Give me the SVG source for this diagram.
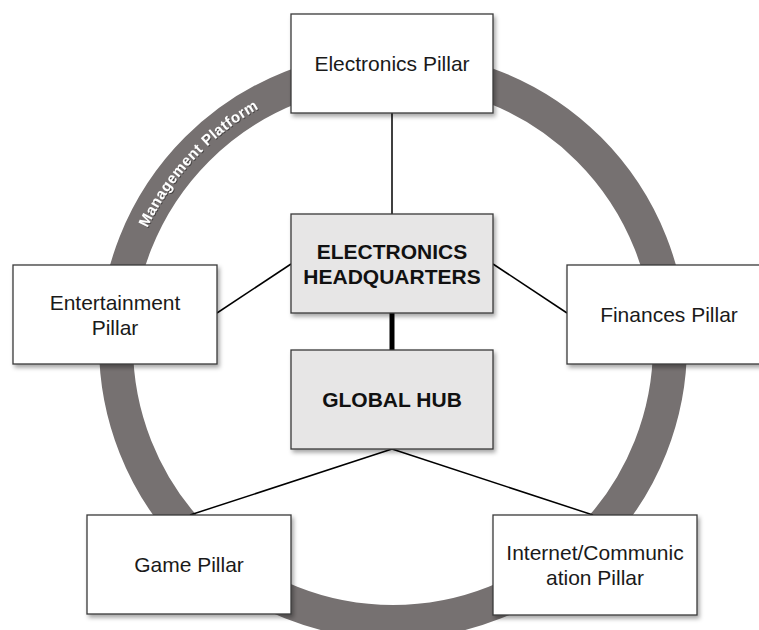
<svg xmlns="http://www.w3.org/2000/svg" width="759" height="630" viewBox="0 0 759 630">
<defs>
<filter id="sh" x="-10%" y="-10%" width="125%" height="130%">
<feDropShadow dx="2" dy="3" stdDeviation="2" flood-color="#000" flood-opacity="0.35"/>
</filter>
<filter id="ts" x="-10%" y="-10%" width="120%" height="120%">
<feDropShadow dx="1" dy="1" stdDeviation="0.6" flood-color="#000" flood-opacity="0.4"/>
</filter>
<path id="arc" d="M125.1,297.8 A272,272 0 0 1 327.2,81.1"/>
</defs>
<style>
.box{fill:#ffffff;stroke:#3a3a3a;stroke-width:1.3;filter:url(#sh)}
.hub{fill:#e7e6e6;stroke:#3a3a3a;stroke-width:1.3;filter:url(#sh)}
.t{font-family:"Liberation Sans",Arial,sans-serif;font-size:21px;fill:#1a1a1a;text-anchor:middle}
.b{font-family:"Liberation Sans",Arial,sans-serif;font-size:21px;font-weight:bold;fill:#111;text-anchor:middle}
.ring{fill:none;stroke:#767171;stroke-width:34}
.rt{font-family:"Liberation Sans",Arial,sans-serif;font-size:15px;font-weight:bold;letter-spacing:0.5px;fill:#ffffff;filter:url(#ts)}
.c{stroke:#000;stroke-width:1.5;fill:none}
</style>
<rect width="759" height="630" fill="#ffffff"/>
<g id="ring">
<circle class="ring" cx="393" cy="345" r="277"/>
<text class="rt"><textPath href="#arc" startOffset="50%" text-anchor="middle">Management Platform</textPath></text>
</g>
<g id="connectors">
<line class="c" x1="392" y1="113" x2="392" y2="214"/>
<line x1="392" y1="313" x2="392" y2="350" stroke="#000" stroke-width="5"/>
<line class="c" x1="291" y1="264" x2="217" y2="313"/>
<line class="c" x1="493" y1="264" x2="567" y2="313"/>
<line class="c" x1="392" y1="449" x2="190" y2="515"/>
<line class="c" x1="392" y1="449" x2="593" y2="515"/>
</g>
<g id="electronics-pillar">
<rect class="box" x="291" y="14" width="202" height="99"/>
<text class="t" x="392" y="71">Electronics Pillar</text>
</g>
<g id="electronics-hq">
<rect class="hub" x="291" y="214" width="202" height="99"/>
<text class="b" x="392" y="259">ELECTRONICS</text>
<text class="b" x="392" y="284">HEADQUARTERS</text>
</g>
<g id="global-hub">
<rect class="hub" x="291" y="350" width="202" height="99"/>
<text class="b" x="392" y="407">GLOBAL HUB</text>
</g>
<g id="entertainment-pillar">
<rect class="box" x="13" y="265" width="204" height="99"/>
<text class="t" x="115" y="310">Entertainment</text>
<text class="t" x="115" y="335">Pillar</text>
</g>
<g id="finances-pillar">
<rect class="box" x="567" y="265" width="204" height="99"/>
<text class="t" x="669" y="322">Finances Pillar</text>
</g>
<g id="game-pillar">
<rect class="box" x="87" y="515" width="204" height="99"/>
<text class="t" x="189" y="572">Game Pillar</text>
</g>
<g id="internet-pillar">
<rect class="box" x="493" y="515" width="204" height="100"/>
<text class="t" x="595" y="560">Internet/Communic</text>
<text class="t" x="595" y="585">ation Pillar</text>
</g>
</svg>
